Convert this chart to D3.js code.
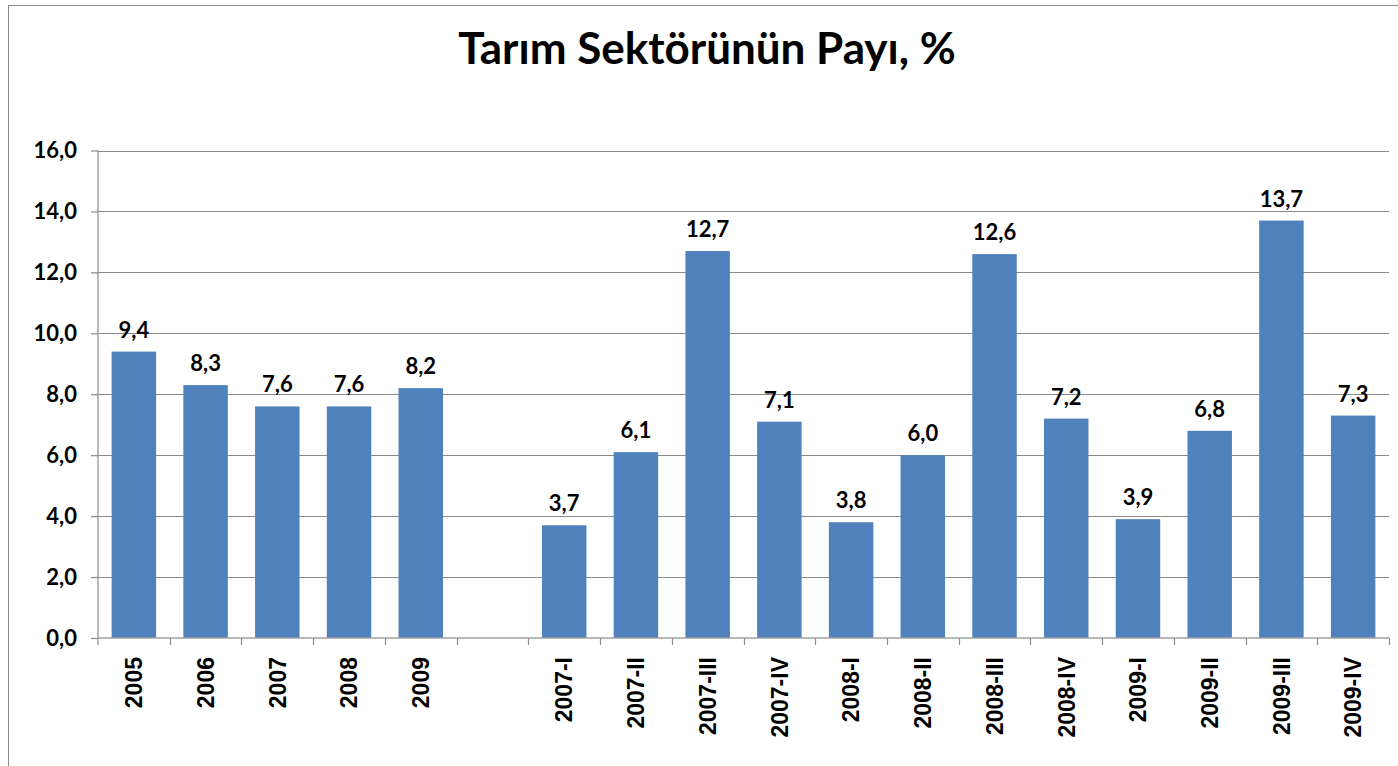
<!DOCTYPE html>
<head>
    <meta charset="utf-8">
    <title>Tarım Sektörünün Payı</title>
    <script src="https://d3js.org/d3.v7.min.js"></script>
</head>

<body>
<svg id="chart" width="1398" height="766"></svg>
</body>

<script>

    // data
    var categories = ["2005", "2006", "2007", "2008", "2009", " ",
        "2007-I", "2007-II", "2007-III", "2007-IV",
        "2008-I", "2008-II", "2008-III", "2008-IV",
        "2009-I", "2009-II", "2009-III", "2009-IV"]
    var values = [9.4, 8.3, 7.6, 7.6, 8.2, null,
        3.7, 6.1, 12.7, 7.1,
        3.8, 6.0, 12.6, 7.2,
        3.9, 6.8, 13.7, 7.3]
    var yTicks = [0, 2, 4, 6, 8, 10, 12, 14, 16]

    var data = categories.map(function(c, i) { return {cat: c, val: values[i]} })

    var plotLeft = 98, plotRight = 1389, plotTop = 150.5, plotBottom = 638

    var svg = d3.select("#chart")

    // outer chart border
    svg.append("rect").attr("x", 8.5).attr("y", 5.5).attr("width", 1420).attr("height", 800)
        .attr("fill", "white").attr("stroke", "#8c8c8c").attr("stroke-width", 1)

    svg.append("text").attr("x", 707).attr("y", 64).text("Tarım Sektörünün Payı, %")
        .attr("text-anchor", "middle").attr("class", "title")

    var x = d3.scaleBand().domain(categories).range([plotLeft, plotRight]).padding(0)
    var y = d3.scaleLinear().domain([0, 16]).range([plotBottom, plotTop])

    // gridlines
    svg.append("g").selectAll("line").data(yTicks.filter(function(d) { return d > 0 }))
        .enter().append("line")
        .attr("x1", plotLeft).attr("x2", plotRight)
        .attr("y1", function(d) { return Math.round(y(d)) + 0.5 })
        .attr("y2", function(d) { return Math.round(y(d)) + 0.5 })
        .attr("stroke", "#8a8a8a").attr("stroke-width", 1.2)

    var barW = x.bandwidth() * 0.62

    svg.append("g").selectAll("rect").data(data.filter(function(d) { return d.val != null }))
        .enter().append("rect")
        .attr("x", function(d) { return x(d.cat) + (x.bandwidth() - barW) / 2 })
        .attr("y", function(d) { return y(d.val) })
        .attr("width", barW)
        .attr("height", function(d) { return plotBottom - y(d.val) })
        .attr("fill", "#4F81BD")

    // value labels
    svg.append("g").selectAll("text").data(data.filter(function(d) { return d.val != null }))
        .enter().append("text")
        .attr("class", "lbl")
        .attr("x", function(d) { return x(d.cat) + x.bandwidth() / 2 })
        .attr("y", function(d) { return y(d.val) - 14 })
        .attr("text-anchor", "middle")
        .text(function(d) { return d.val.toFixed(1).replace(".", ",") })

    // y axis
    var yAxis = svg.append("g").attr("transform", "translate(" + plotLeft + ",0)")
        .call(d3.axisLeft(y).tickValues(yTicks).tickSize(7).tickPadding(14)
            .tickFormat(function(d) { return d.toFixed(1).replace(".", ",") }))
    yAxis.select(".domain").remove()
    yAxis.append("line").attr("x1", 0).attr("x2", 0).attr("y1", plotTop).attr("y2", plotBottom + 7)
        .attr("stroke", "#8a8a8a").attr("stroke-width", 1.2)
    yAxis.selectAll(".tick line").attr("stroke", "#8a8a8a").attr("stroke-width", 1.2)
    yAxis.selectAll(".tick text").attr("class", "ytick").attr("fill", "black")

    // x axis
    var xg = svg.append("g")
    xg.append("line").attr("x1", plotLeft).attr("x2", plotRight).attr("y1", plotBottom).attr("y2", plotBottom)
        .attr("stroke", "#a0a0a0").attr("stroke-width", 1.5)
    xg.selectAll(".xt").data(categories.slice(1).concat(["end"]))
        .enter().append("line")
        .attr("x1", function(d, i) { return Math.round(plotLeft + x.step() * (i + 1)) + 0.5 })
        .attr("x2", function(d, i) { return Math.round(plotLeft + x.step() * (i + 1)) + 0.5 })
        .attr("y1", plotBottom).attr("y2", plotBottom + 7)
        .attr("stroke", "#8a8a8a").attr("stroke-width", 1.2)
    xg.selectAll("text").data(categories)
        .enter().append("text")
        .attr("class", "xlbl")
        .attr("transform", function(d) { return "translate(" + (x(d) + x.bandwidth() / 2) + ",657) rotate(-90)" })
        .attr("text-anchor", "end")
        .attr("dy", "0.36em")
        .text(function(d) { return d })

</script>

<style>
    html, body {
        margin: 0;
        background: white;
    }
    svg { display: block; }
    .title {
        font-family: Lato, "Open Sans", sans-serif;
        font-weight: bold;
        font-size: 44px;
    }
    .lbl, .ytick {
        font-family: Lato, "Open Sans", sans-serif;
        font-weight: bold;
        font-size: 22px;
    }
    .xlbl {
        font-family: "Liberation Sans", Arial, sans-serif;
        font-weight: bold;
        font-size: 23px;
    }
</style>

</html>
